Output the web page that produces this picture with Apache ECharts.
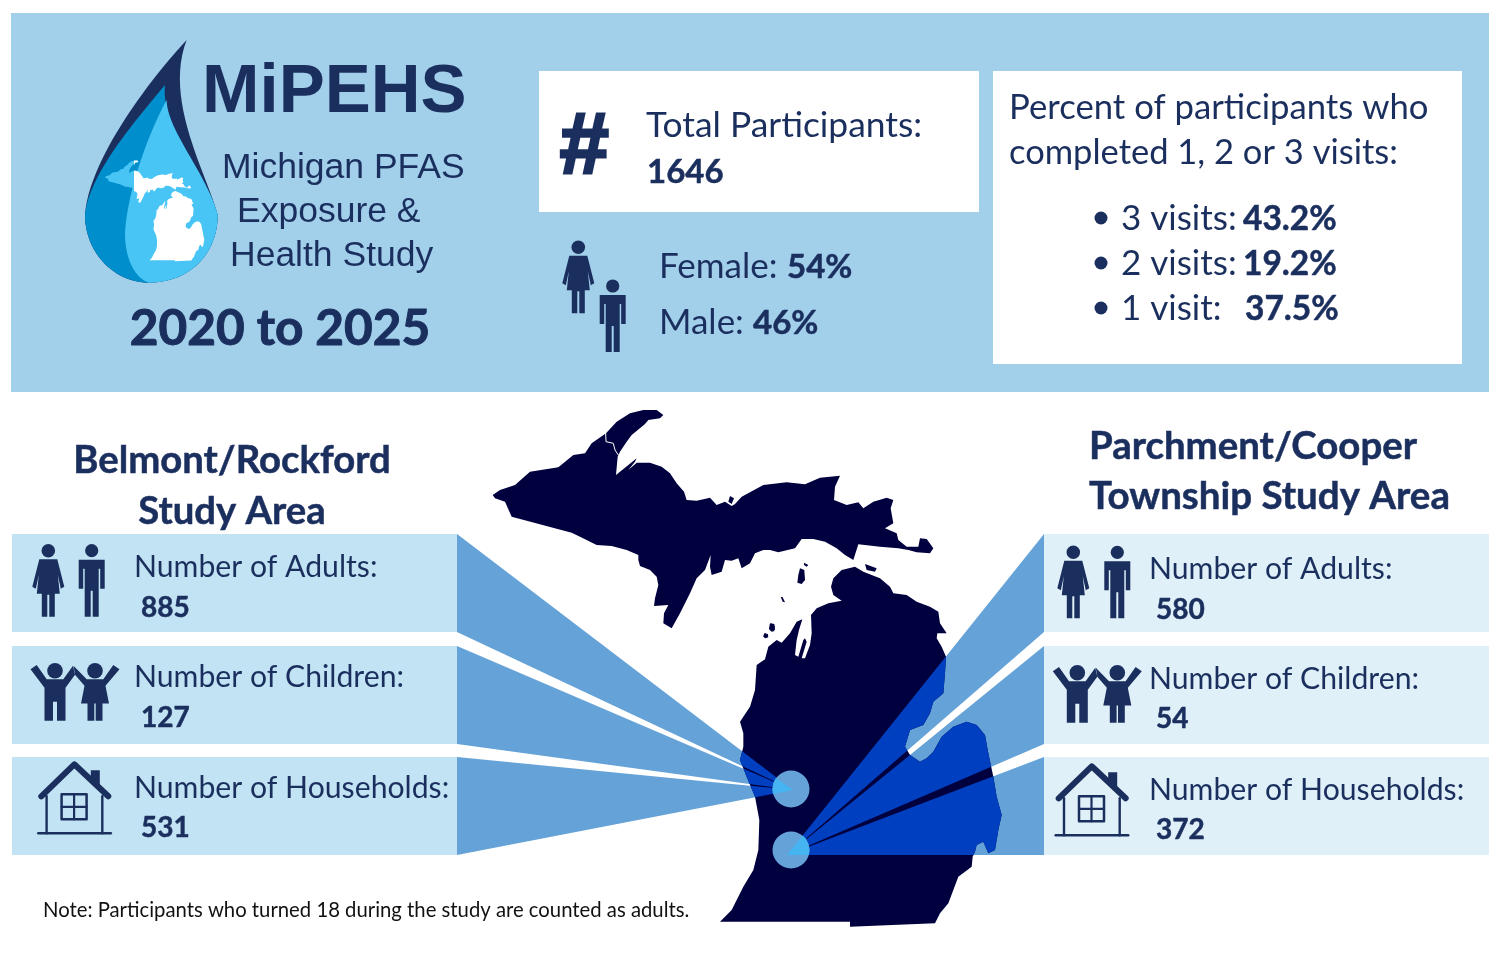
<!DOCTYPE html>
<html>
<head>
<meta charset="utf-8">
<title>MiPEHS</title>
<script src="https://cdn.jsdelivr.net/npm/echarts@6/dist/echarts.min.js"></script>
<style>
html, body { margin: 0; padding: 0; background: #fff; }
#chart { width: 1500px; height: 956px; }
</style>
</head>
<body>
<div id="chart"></div>
<script>
// values
var studyYears = ['2020', '2025'];
var totalParticipants = 1646;
var genderLabels = ['Female', 'Male'];
var genderShares = [54, 46];
var visitLabels = ['3 visits:', '2 visits:', '1 visit:'];
var visitShares = [43.2, 19.2, 37.5];
var areaRows = ['Number of Adults:', 'Number of Children:', 'Number of Households:'];
var belmontCounts = [885, 127, 531];
var parchmentCounts = [580, 54, 372];

var NAVY = '#1b2f5e';
var LAND = '#00003f';
var PANEL = '#a2cfea';
var BODY_FONT = 'Lato';

var upperWest = [[38,285],[60,270],[105,255],[150,215],[235,202],[280,165],[315,160],[335,130],[378,100],[410,65],[450,40],[490,30],[530,30],[550,45],[540,55],[505,60],[495,72],[455,105],[440,125],[420,155],[413,170],[408,225],[420,215],[445,195],[470,175],[465,185],[445,210],[470,188],[510,188],[545,200],[570,220],[590,250],[612,275],[620,300],[650,302],[690,293],[710,315],[735,305],[755,318],[765,312],[785,290],[850,255]];
var upperEast = [[50,52],[105,58],[150,38],[210,32],[195,65],[192,105],[230,120],[265,112],[280,130],[310,110],[350,98],[370,105],[362,130],[370,175],[345,190],[380,205],[385,225],[410,245],[445,245],[450,220],[470,222],[490,250],[480,265],[440,262],[415,255],[385,250],[330,245],[265,238],[250,285],[225,270],[200,250],[165,230],[130,222],[95,222],[75,250],[25,262],[0,255]];
var upperSouth = [[850,450],[825,460],[810,490],[785,505],[775,475],[755,482],[735,480],[725,515],[695,525],[690,500],[692,465],[675,510],[650,535],[630,580],[600,640],[575,685],[550,670],[552,640],[565,615],[522,618],[525,595],[535,555],[530,530],[510,510],[480,498],[475,480],[475,465],[440,450],[395,438],[350,435],[300,410],[275,398],[95,350],[75,305],[45,295]];
var lowerLand = [[465,110],[490,125],[540,145],[570,170],[580,190],[620,195],[650,215],[690,230],[715,245],[720,280],[740,310],[712,310],[710,325],[725,350],[738,380],[735,430],[730,490],[700,515],[690,550],[670,585],[630,600],[615,650],[630,675],[660,695],[680,685],[700,665],[725,620],[760,590],[800,575],[830,585],[855,615],[865,670],[880,740],[890,800],[905,855],[895,900],[885,960],[865,970],[850,935],[830,945],[825,965],[818,980],[815,1010],[775,1040],[760,1080],[745,1120],[720,1150],[705,1180],[450,1190],[450,1175],[60,1175],[95,1140],[130,1070],[160,1020],[175,960],[178,870],[165,800],[140,740],[120,690],[130,650],[130,610],[120,575],[150,530],[165,480],[170,405],[195,388],[205,350],[230,330],[245,338],[270,310],[290,275],[307,268],[297,300],[290,330],[285,375],[295,380],[310,330],[315,325],[320,335],[305,385],[315,385],[330,345],[335,310],[333,255],[350,235],[385,220],[425,212],[400,195],[393,170],[400,145],[425,120]];
var lowerIslands = [
    [[300,115],[313,120],[315,150],[305,162],[292,158],[295,135]],
    [[312,98],[325,105],[320,110],[312,105]],
    [[242,200],[248,202],[255,217],[248,215]],
    [[210,280],[223,282],[225,300],[215,305],[207,295]],
    [[193,310],[203,312],[205,322],[195,325],[190,318]],
    [[495,102],[530,115],[525,125],[500,120]]
];
var upperIslands = [
    [[750,288],[762,295],[755,312],[745,305]],
    [[875,670],[885,680],[880,695],[868,690]],
    [[855,700],[865,705],[858,715],[850,710]]
];

function crop(points, x0, y0) {
    return points.map(function (p) { return [x0 + p[0] / 3, y0 + p[1] / 3]; });
}
var upperLand = crop(upperWest, 480, 400).concat(crop(upperEast, 770, 465), crop(upperSouth, 480, 400));
var lower = crop(lowerLand, 700, 530);
var islands = lowerIslands.map(function (s) { return crop(s, 700, 530); })
    .concat(upperIslands.map(function (s) { return crop(s, 480, 400); }));

function bez(a, b, c, d) {
    var out = [];
    for (var i = 0; i <= 24; i++) {
        var t = i / 24, u = 1 - t;
        out.push([
            u * u * u * a[0] + 3 * u * u * t * b[0] + 3 * u * t * t * c[0] + t * t * t * d[0],
            u * u * u * a[1] + 3 * u * u * t * b[1] + 3 * u * t * t * c[1] + t * t * t * d[1]
        ]);
    }
    return out;
}

// keep the part of a land outline that lies inside a wedge
function clipToWedge(points, tri) {
    var out = points;
    for (var e = 0; e < 3; e++) {
        var a = tri[e], b = tri[(e + 1) % 3], c = tri[(e + 2) % 3];
        var side = function (p) { return (b[0] - a[0]) * (p[1] - a[1]) - (b[1] - a[1]) * (p[0] - a[0]); };
        var sign = side(c) > 0 ? 1 : -1;
        var next = [];
        for (var i = 0; i < out.length; i++) {
            var p = out[i], q = out[(i + 1) % out.length];
            var sp = side(p) * sign, sq = side(q) * sign;
            if (sp >= 0) next.push(p);
            if ((sp >= 0) !== (sq >= 0)) {
                var k = sp / (sp - sq);
                next.push([p[0] + (q[0] - p[0]) * k, p[1] + (q[1] - p[1]) * k]);
            }
        }
        out = next;
    }
    return out;
}

var marks = [];
function rect(x0, y0, x1, y1, color) { marks.push({ kind: 'poly', pts: [[x0,y0],[x1,y0],[x1,y1],[x0,y1]], fill: color }); }
function poly(pts, color) { marks.push({ kind: 'poly', pts: pts, fill: color }); }
function dot(x, y, r, color) { marks.push({ kind: 'dot', x: x, y: y, r: r, fill: color }); }
function line(pts, w, cap) { marks.push({ kind: 'line', pts: pts, w: w, cap: cap || 'round' }); }
function label(text, x, y, size, bold, opts) {
    opts = opts || {};
    var family = opts.family || BODY_FONT;
    var heavy = opts.heavy !== undefined ? opts.heavy : (bold && family === BODY_FONT ? 0.5 : 0);
    marks.push({ kind: 'text', text: String(text), x: x, y: family === BODY_FONT ? y + 1 : y, size: size, bold: bold, color: opts.color || NAVY,
        family: family, align: opts.align || 'left', italic: opts.italic, heavy: heavy });
}
function shift(points, x, y) { return points.map(function (p) { return [x + p[0], y + p[1]]; }); }

var womanBody = [[-9,8.5],[9,8.5],[16,36],[12.5,38],[9.5,24],[11.5,43],[6.5,43],[6.5,66],[1,66],[1,44],[-1,44],[-1,66],[-6.5,66],[-6.5,43],[-11.5,43],[-9.5,24],[-12.5,38],[-16,36]];
var manBody = [[-13,9],[13,9],[13,38],[8.5,38],[8.5,18],[7,18],[7,66],[1,66],[1,40],[-1,40],[-1,66],[-7,66],[-7,18],[-8.5,18],[-8.5,38],[-13,38]];
var boyBody = [[-18.3,-5.7],[-8.3,8.5],[8.3,8.5],[18,-5],[20,4],[10.5,17],[10.5,50],[2,50],[2,31],[-2,31],[-2,50],[-10.5,50],[-10.5,17],[-24.5,-1.5]];
var girlBody = [[-21.5,-5],[-8.3,8.5],[8.3,8.5],[18.3,-5.7],[24.5,-1.5],[10.5,15],[14,32.7],[7.5,32.7],[7.5,50],[0.7,50],[0.7,32.7],[-0.7,32.7],[-0.7,50],[-7.5,50],[-7.5,32.7],[-14,32.7],[-10.5,15],[-20,4]];

function woman(x, y) { dot(x, y, 6.8, NAVY); poly(shift(womanBody, x, y), NAVY); }
function man(x, y) { dot(x, y, 6.6, NAVY); poly(shift(manBody, x, y), NAVY); }
function children(x, y) {
    dot(x, y, 7.8, NAVY); poly(shift(boyBody, x, y), NAVY);
    dot(x + 40, y, 7.8, NAVY); poly(shift(girlBody, x + 40, y), NAVY);
}
function house(x, y) {
    poly(shift([[16.5,8],[25.5,8],[25.5,25],[16.5,16]], x, y), NAVY);
    line(shift([[-33,34],[0,2],[34,34]], x, y), 6);
    line(shift([[-27.7,34],[-27.7,71]], x, y), 2.4);
    line(shift([[28,34],[28,71]], x, y), 2.4);
    line(shift([[-36,71],[36.5,71]], x, y), 2.5);
    line(shift([[-12.7,32],[12.3,32],[12.3,57],[-12.7,57],[-12.7,32]], x, y), 2.5);
    line(shift([[-0.2,32],[-0.2,57]], x, y), 2.2);
    line(shift([[-12.7,44.5],[12.3,44.5]], x, y), 2.2);
}

// top panel
rect(11, 13, 1489, 392, PANEL);
rect(539, 71, 979, 212, '#ffffff');
rect(993, 71, 1462, 364, '#ffffff');

// drop logo
var arcL = bez([75,555],[75,670],[165,758],[265,758]);
var arcR = bez([265,758],[390,758],[473,670],[473,555]);
var drop = bez([380,30],[250,170],[85,400],[75,555]).concat(arcL, arcR, bez([473,555],[440,430],[310,210],[380,30]));
var dropDark = bez([315,165],[210,290],[85,440],[75,555]).concat(arcL, arcR, bez([473,555],[440,430],[300,290],[315,165]));
var dropLight = bez([320,210],[255,330],[200,500],[195,610]).concat(bez([195,610],[195,680],[220,740],[265,758]), arcR, bez([473,555],[440,430],[320,300],[320,210]));
poly(crop(drop, 60, 30), NAVY);
poly(crop(dropDark, 60, 30), '#008fcc');
function tiny(points, clampX) {
    return points.map(function (p) {
        var x = 105 + (p[0] - 492) * 0.195, y = 160.5 + (p[1] - 410) * 0.195;
        return [clampX ? Math.max(x, clampX) : x, y];
    });
}
poly(tiny(upperLand), '#48c5f5');
poly(crop(dropLight, 60, 30), '#48c5f5');
poly(tiny(upperLand, 134), '#ffffff');
poly(tiny(lower, 134), '#ffffff');

label('MiPEHS', 202, 93, 69, true, { family: 'Liberation Sans' });
label('Michigan PFAS', 222, 168, 35.5, false, { family: 'Liberation Sans' });
label('Exposure &', 237, 212, 35.5, false, { family: 'Liberation Sans' });
label('Health Study', 230, 256, 35.5, false, { family: 'Liberation Sans' });
label(studyYears[0] + ' to ' + studyYears[1], 280, 328, 49.5, true, { align: 'center', heavy: 1 });

label('#', 583, 149, 88, true, { family: 'Liberation Sans', align: 'center', italic: true, heavy: 3 });
label('Total Participants:', 646, 125, 35.4, false);
label(totalParticipants, 647, 171, 33, true);

woman(578.3, 247.3);
man(612.7, 286);
label(genderLabels[0] + ':', 659, 266, 35, false);
label(genderShares[0] + '%', 787, 266, 33, true);
label(genderLabels[1] + ':', 659, 322, 35, false);
label(genderShares[1] + '%', 753, 322, 33, true);

label('Percent of participants who', 1009, 107, 34.7, false);
label('completed 1, 2 or 3 visits:', 1009, 152, 34.5, false);
var visitY = [218, 263, 308];
var visitX = [1243, 1243, 1245];
visitLabels.forEach(function (v, i) {
    dot(1101, visitY[i], 6.5, NAVY);
    label(v, 1121, visitY[i], 35, false);
    label(visitShares[i] + '%', visitX[i], visitY[i], 33.5, true);
});

// study area rows and wedges to the two dots
var rowTop = [534, 646, 757];
var rowBottom = [632, 744, 855];
var leftTip = [793, 790];
var rightTip = [787, 855];
var wedges = [];
rowTop.forEach(function (t, i) {
    rect(12, t, 457, rowBottom[i], '#c2e3f3');
    rect(1044, t, 1489, rowBottom[i], '#dff0f8');
    wedges.push([[457, t], [457, rowBottom[i]], leftTip]);
    wedges.push([[1044, t], [1044, rowBottom[i]], rightTip]);
});
wedges.forEach(function (w) { poly(w, '#65a2d8'); });

// michigan
poly(upperLand, LAND);
poly(lower, LAND);
islands.forEach(function (s) { poly(s, LAND); });
line([[605.7,433.3],[606,441.7],[613.3,443.3],[615,450],[618.3,455]], 1);
marks[marks.length - 1].color = '#ffffff';

// wedges read stronger where they cross the land
wedges.forEach(function (w) { poly(clipToWedge(lower, w), '#0040c0'); });

dot(791, 789, 18.5, '#65a2d8');
dot(791, 850, 18.5, '#65a2d8');
poly([leftTip, [776,778], [773.5,783], [772.5,789], [773,794]], '#45b4f0');
poly([rightTip, [802.6,835.6], [806,839], [808.5,845], [809.5,850], [808.8,855]], '#45b4f0');

// left block
label('Belmont/Rockford', 232, 460, 38.3, true, { align: 'center' });
label('Study Area', 232, 511, 38.3, true, { align: 'center' });
var leftTextY = [566, 676, 787];
var leftValueY = [607, 717, 827];
areaRows.forEach(function (r, i) {
    label(r, 134, leftTextY[i], 30.2, false);
    label(belmontCounts[i], 141, leftValueY[i], 28, true);
});
woman(48.3, 550.7);
man(91.7, 550.7);
children(55, 670.7);
house(74.3, 762.3);

// right block
label('Parchment/Cooper', 1089, 446, 38.4, true);
label('Township Study Area', 1089, 496, 38.5, true);
var rightTextY = [568, 678, 789];
var rightValueY = [609, 718, 829];
areaRows.forEach(function (r, i) {
    label(r, 1149, rightTextY[i], 30.2, false);
    label(parchmentCounts[i], 1156, rightValueY[i], 28, true);
});
woman(1073.3, 552.3);
man(1117.3, 552.3);
children(1077.3, 672.7);
house(1091.7, 764.3);

label('Note: Participants who turned 18 during the study are counted as adults.', 43, 909, 20.3, false, { color: '#111111' });

function renderMark(params, api) {
    var m = marks[params.dataIndex];
    if (m.kind === 'poly') {
        return { type: 'polygon', shape: { points: m.pts.map(function (p) { return api.coord(p); }) },
            style: { fill: m.fill } };
    }
    if (m.kind === 'dot') {
        var c = api.coord([m.x, m.y]);
        return { type: 'circle', shape: { cx: c[0], cy: c[1], r: api.size([m.r, 0])[0] }, style: { fill: m.fill } };
    }
    if (m.kind === 'line') {
        return { type: 'polyline', shape: { points: m.pts.map(function (p) { return api.coord(p); }) },
            style: { fill: null, stroke: m.color || NAVY, lineWidth: m.w, lineCap: m.cap, lineJoin: 'round' } };
    }
    var t = api.coord([m.x, m.y]);
    return { type: 'text', x: t[0], y: t[1], style: { text: m.text, fill: m.color, fontFamily: m.family, fontSize: m.size,
        fontWeight: m.bold ? 'bold' : 'normal', fontStyle: m.italic ? 'italic' : 'normal', align: m.align, verticalAlign: 'middle',
        stroke: m.heavy ? m.color : null, lineWidth: m.heavy || 0 } };
}

var myChart = echarts.init(document.getElementById('chart'));
myChart.setOption({
    animation: false,
    backgroundColor: '#ffffff',
    tooltip: { show: false },
    grid: { left: 0, right: 0, top: 0, bottom: 0 },
    xAxis: { type: 'value', min: 0, max: 1500, show: false },
    yAxis: { type: 'value', min: 0, max: 956, inverse: true, show: false },
    series: [{
        type: 'custom',
        silent: true,
        clip: false,
        renderItem: renderMark,
        data: marks.map(function (m, i) { return [i]; })
    }]
});
</script>
</body>
</html>
